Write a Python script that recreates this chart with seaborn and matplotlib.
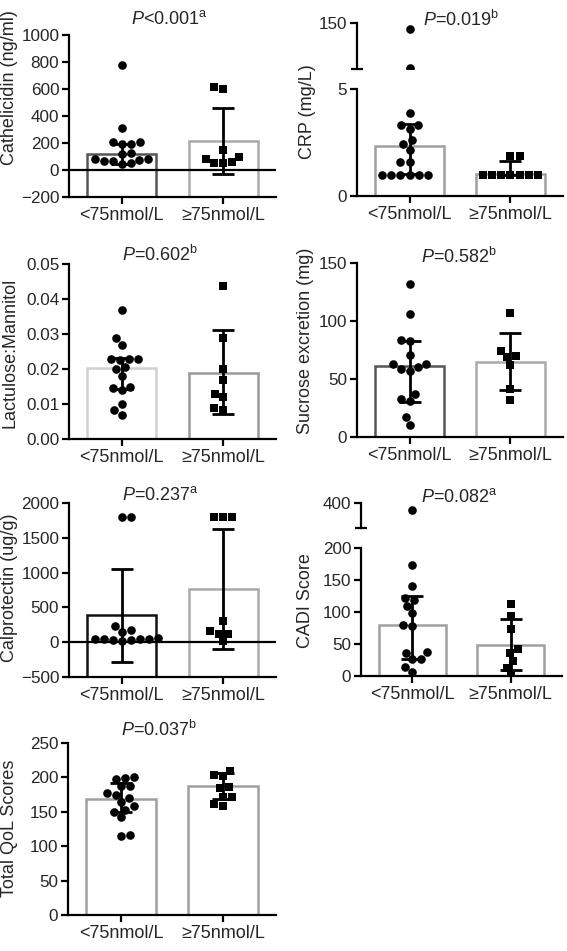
import numpy as np
import pandas as pd
import matplotlib
matplotlib.use('Agg')
import matplotlib.pyplot as plt
import seaborn as sns
from matplotlib.ticker import FixedLocator, FormatStrFormatter

sns.set_theme(style='ticks')
plt.rcParams['font.family'] = ['Liberation Sans', 'DejaVu Sans']
plt.rcParams['mathtext.fontset'] = 'custom'
plt.rcParams['mathtext.rm'] = 'Liberation Sans'
plt.rcParams['mathtext.it'] = 'Liberation Sans:italic'

groups = ['<75nmol/L', '≥75nmol/L']

# Cathelicidin (ng/ml)
cath_low = [780, 310, 205, 195, 195, 205, 125, 115, 80, 75, 70, 70, 80, 50, 45]
cath_high = [612, 598, 99, 62, 49, 49, 79, 148]
cath_bar = [118, 212]
cath_lo = [45, -30]
cath_hi = [193, 462]

# CRP (mg/L)
crp_low = [132, 12, 3.9, 3.3, 3.3, 3.15, 2.6, 2.45, 2.15, 1.6, 1.6, 1.0, 1.0, 1.0, 1.0, 1.0, 1.0]
crp_high = [1.85, 1.85, 1.0, 1.0, 1.0, 1.0, 1.0, 1.0, 1.0]
crp_bar = [2.34, 1.05]
crp_lo = [1.03, 1.0]
crp_hi = [3.35, 1.64]

# Lactulose:Mannitol
lm_low = [0.037, 0.029, 0.027, 0.023, 0.023, 0.023, 0.0225, 0.0205, 0.020,
          0.018, 0.015, 0.0145, 0.014, 0.010, 0.0083, 0.007]
lm_high = [0.0438, 0.029, 0.020, 0.017, 0.012, 0.013, 0.0083, 0.0088]
lm_bar = [0.0202, 0.019]
lm_lo = [0.0142, 0.0072]
lm_hi = [0.0231, 0.0312]

# Sucrose excretion (mg)
suc_low = [132, 106, 84, 83, 71, 63, 63, 60, 59, 57, 37, 33, 31, 17, 10]
suc_high = [107, 74, 70, 69, 62, 41, 32]
suc_bar = [61.4, 65]
suc_lo = [30.3, 40.4]
suc_hi = [82.8, 89.4]

# Calprotectin (ug/g)
cal_low = [1800, 1800, 230, 180, 150, 60, 50, 50, 40, 40, 30, 30, 20]
cal_high = [1800, 1800, 1800, 309, 156, 118, 118, 12]
cal_bar = [386, 764]
cal_lo = [-285, -98]
cal_hi = [1045, 1626]

# CADI Score
cadi_low = [373, 174, 140, 122, 118, 109, 98, 79, 78, 37, 36, 27, 26, 14, 6]
cadi_high = [113, 93, 73, 42, 36, 23, 13, 1]
cadi_bar = [80, 49]
cadi_lo = [26, 10]
cadi_hi = [124.5, 89.6]

# Total QoL Scores
qol_low = [200, 199, 197, 187, 187, 178, 174, 170, 164, 158, 153, 150, 142, 116, 115]
qol_high = [210, 204, 202, 186, 184, 172, 172, 162, 158]
qol_bar = [169, 187]
qol_lo = [150, 168]
qol_hi = [192, 207]

W, H = 567, 951
FS = 13
TS = 12.3
fig = plt.figure(figsize=(W / 100, H / 100), dpi=100)


def add_ax(x0, x1, y0, y1):
    # pixel box (top y0, bottom y1) -> figure fraction
    return fig.add_axes([x0 / W, 1 - y1 / H, (x1 - x0) / W, (y1 - y0) / H])


def style(ax, bottom=True):
    sns.despine(ax=ax, bottom=not bottom)
    for s in ['left', 'bottom']:
        ax.spines[s].set_linewidth(1.6)
        ax.spines[s].set_color('black')
    ax.tick_params(axis='both', length=5, width=1.6, color='black', labelsize=TS, pad=2)
    ax.tick_params(axis='x', labelsize=FS)
    ax.set_xlabel('')
    ax.set_ylabel('')
    if not bottom:
        ax.tick_params(axis='x', bottom=False, labelbottom=False)


def draw(ax, low, high, bar, lo, hi, colors, base, vmin=-np.inf, vmax=np.inf):
    df = pd.DataFrame({'group': [groups[0]] * len(low) + [groups[1]] * len(high),
                       'value': low + high})
    df = df[(df.value >= vmin) & (df.value <= vmax)]
    bars = pd.DataFrame({'group': groups, 'value': bar})
    sns.barplot(data=bars, x='group', y='value', hue='group', palette=colors,
                width=0.68, errorbar=None, legend=False, ax=ax, zorder=1)
    for p, h, c in zip(ax.patches, bar, colors):
        p.set_y(base)
        p.set_height(h - base)
        p.set_facecolor('none')
        p.set_edgecolor(c)
        p.set_linewidth(1.8)
    for g, m in zip(groups, ['o', 's']):
        sub = df[df.group == g]
        if len(sub):
            sns.swarmplot(data=sub, x='group', y='value', order=groups,
                          marker=m, color='black', size=6.2, linewidth=0, ax=ax, zorder=3)
    ax.errorbar([0, 1], bar, yerr=[np.subtract(bar, lo), np.subtract(hi, bar)],
                fmt='none', ecolor='black', elinewidth=2, capsize=8, capthick=2, zorder=4)
    ax.set_xlim(-0.52, 1.52)


def simple_panel(box, low, high, bar, lo, hi, colors, ylim, yticks, zero=False):
    ax = add_ax(*box)
    draw(ax, low, high, bar, lo, hi, colors, ylim[0])
    ax.set_ylim(*ylim)
    ax.set_yticks(yticks)
    if zero:
        ax.axhline(0, color='black', lw=1.6, zorder=2)
    style(ax)
    return ax


def broken_panel(box, split, low, high, bar, lo, hi, colors, ylim_lo, ylim_hi, ticks_lo, ticks_hi):
    x0, x1, y0, y1 = box
    ya, yb = split
    top = add_ax(x0, x1, y0, ya)
    bot = add_ax(x0, x1, yb, y1)
    # each segment only gets the points that fall inside it
    draw(top, low, high, bar, lo, hi, colors, 0, vmin=ylim_hi[0])
    draw(bot, low, high, bar, lo, hi, colors, 0, vmax=ylim_lo[1])
    top.set_ylim(*ylim_hi)
    top.set_yticks(ticks_hi)
    top.yaxis.set_minor_locator(FixedLocator([ylim_hi[0]]))
    bot.set_ylim(*ylim_lo)
    bot.set_yticks(ticks_lo)
    bot.yaxis.set_minor_locator(FixedLocator([ylim_lo[1]]))
    style(top, bottom=False)
    style(bot)
    for ax in (top, bot):
        ax.tick_params(axis='y', which='minor', direction='inout', length=9, width=1.6, color='black')
    return top, bot


def ptext(x, y, s):
    fig.text(x / W, 1 - y / H, s, ha='center', va='center', fontsize=FS)


def ylab(x, y, s):
    fig.text(x / W, 1 - y / H, s, ha='center', va='center', rotation=90, fontsize=FS)


# row 1
simple_panel((69, 276, 35, 197), cath_low, cath_high, cath_bar, cath_lo, cath_hi,
             ['#555555', '#aaaaaa'], (-200, 1000), range(-200, 1001, 200), zero=True)
ylab(10, 88, 'Cathelicidin (ng/ml)')
ptext(169, 19, r'$\mathit{P}$<0.001$^{\mathrm{a}}$')

broken_panel((357, 563, 23, 196), (69, 89), crp_low, crp_high, crp_bar, crp_lo, crp_hi,
             ['#a0a0a0', '#a0a0a0'], (0, 5), (10, 150), [0, 5], [150])
ylab(307, 112, 'CRP (mg/L)')
ptext(461, 20, r'$\mathit{P}$=0.019$^{\mathrm{b}}$')

# row 2
ax = simple_panel((69, 276, 264, 439), lm_low, lm_high, lm_bar, lm_lo, lm_hi,
                  ['#d0d0d0', '#999999'], (0, 0.05), np.arange(0, 0.051, 0.01))
ax.yaxis.set_major_formatter(FormatStrFormatter('%.2f'))
ylab(10, 353, 'Lactulose:Mannitol')
ptext(160, 255, r'$\mathit{P}$=0.602$^{\mathrm{b}}$')

simple_panel((357, 563, 263, 437), suc_low, suc_high, suc_bar, suc_lo, suc_hi,
             ['#555555', '#aaaaaa'], (0, 150), [0, 50, 100, 150])
ylab(306, 341, 'Sucrose excretion (mg)')
ptext(459, 257, r'$\mathit{P}$=0.582$^{\mathrm{b}}$')

# row 3
simple_panel((69, 276, 503, 677), cal_low, cal_high, cal_bar, cal_lo, cal_hi,
             ['#111111', '#aaaaaa'], (-500, 2000), range(-500, 2001, 500), zero=True)
ylab(10, 588, 'Calprotectin (ug/g)')
ptext(160, 495, r'$\mathit{P}$=0.237$^{\mathrm{a}}$')

broken_panel((361, 562, 503, 676), (528, 548), cadi_low, cadi_high, cadi_bar, cadi_lo, cadi_hi,
             ['#a0a0a0', '#a0a0a0'], (0, 200), (300, 400), range(0, 201, 50), [400])
ylab(306, 601, 'CADI Score')
ptext(459, 497, r'$\mathit{P}$=0.082$^{\mathrm{a}}$')

# row 4
simple_panel((68, 276, 743, 915), qol_low, qol_high, qol_bar, qol_lo, qol_hi,
             ['#a0a0a0', '#a0a0a0'], (0, 250), range(0, 251, 50))
ylab(10, 828, 'Total QoL Scores')
ptext(159, 730, r'$\mathit{P}$=0.037$^{\mathrm{b}}$')

fig.savefig('out.png', dpi=100)
